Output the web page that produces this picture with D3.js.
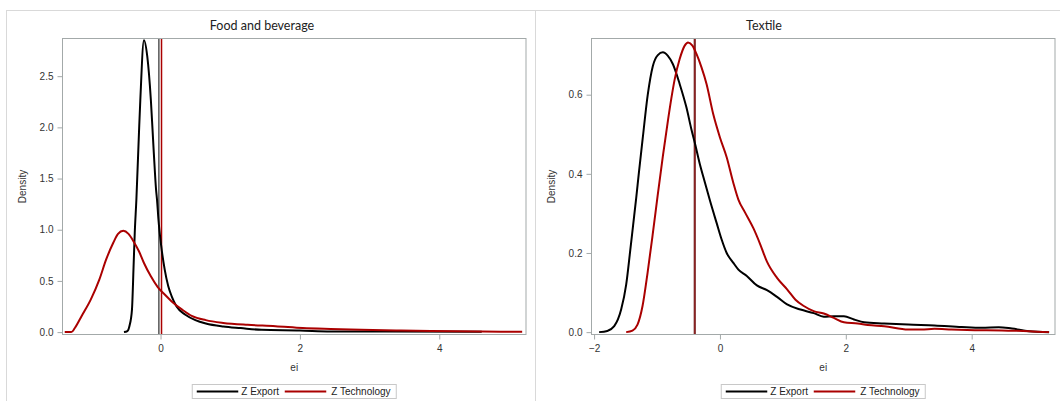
<!DOCTYPE html>
<html>
<head>
<meta charset="utf-8">
<script src="https://cdn.jsdelivr.net/npm/d3@7"></script>
<style>
  html, body { margin: 0; padding: 0; background: #fff; }
  svg { display: block; }
  .tick-label { font-family: "Liberation Sans", Arial, sans-serif; font-size: 10px; fill: #333; }
  .axis-title { font-family: "Liberation Sans", Arial, sans-serif; font-size: 10px; fill: #333; }
  .panel-title { font-family: Lato, "Open Sans", sans-serif; font-size: 12.5px; fill: #222; }
  .legend-text { font-family: "Liberation Sans", Arial, sans-serif; font-size: 10px; fill: #222; }
</style>
</head>
<body>
<svg id="chart" width="1060" height="401"></svg>
<script>
// Kernel density estimates of the efficiency index (ei), by sector
const panelTitles = ["Food and beverage", "Textile"];
const seriesNames = ["Z Export", "Z Technology"];
const seriesColors = ["#000000", "#aa0000"];

// Food and beverage: [ei, density]
const foodExport = [
  [-0.525, 0], [-0.476, 0.01], [-0.446, 0.06], [-0.41, 0.22], [-0.387, 0.64], [-0.37, 0.97],
  [-0.347, 1.29], [-0.31, 1.94], [-0.29, 2.27], [-0.238, 2.85], [-0.19, 2.69], [-0.139, 2.27],
  [-0.099, 1.78], [-0.064, 1.39], [-0.05, 1.29], [-0.03, 1.10], [0.01, 0.84], [0.06, 0.61],
  [0.11, 0.45], [0.16, 0.35], [0.23, 0.25], [0.357, 0.17], [0.5, 0.117], [0.65, 0.084],
  [0.9, 0.055], [1.15, 0.039], [1.45, 0.022], [2.0, 0.016], [2.44, 0.007], [3.13, 0.006],
  [4.61, 0.003]
];
const foodTechnology = [
  [-1.375, 0], [-1.28, 0], [-1.23, 0.04], [-1.13, 0.16], [-1.0, 0.32], [-0.88, 0.51],
  [-0.78, 0.71], [-0.68, 0.87], [-0.61, 0.96], [-0.535, 0.99], [-0.46, 0.96], [-0.387, 0.886],
  [-0.31, 0.79], [-0.238, 0.675], [-0.139, 0.545], [-0.04, 0.44], [0.06, 0.367], [0.16, 0.30],
  [0.31, 0.22], [0.456, 0.156], [0.65, 0.117], [0.9, 0.09], [1.25, 0.071], [1.65, 0.058],
  [2.04, 0.039], [2.44, 0.03], [2.88, 0.023], [3.38, 0.016], [3.88, 0.01], [4.62, 0.006],
  [5.19, 0.003]
];

// Textile: [ei, density]
const textileExport = [
  [-1.92, 0], [-1.79, 0.003], [-1.68, 0.015], [-1.57, 0.057], [-1.49, 0.12], [-1.43, 0.20],
  [-1.38, 0.27], [-1.33, 0.34], [-1.29, 0.40], [-1.227, 0.49], [-1.147, 0.60], [-1.067, 0.672],
  [-0.987, 0.700], [-0.907, 0.707], [-0.827, 0.698], [-0.747, 0.677], [-0.64, 0.627],
  [-0.533, 0.568], [-0.453, 0.512], [-0.39, 0.472], [-0.32, 0.425], [-0.24, 0.379],
  [-0.16, 0.333], [-0.053, 0.276], [0.027, 0.234], [0.107, 0.20], [0.213, 0.175], [0.293, 0.158],
  [0.427, 0.142], [0.587, 0.118], [0.747, 0.106], [0.907, 0.089], [1.067, 0.07], [1.28, 0.057],
  [1.49, 0.048], [1.65, 0.039], [1.81, 0.040], [1.97, 0.040], [2.13, 0.032], [2.29, 0.025],
  [2.61, 0.022], [2.99, 0.019], [3.41, 0.017], [3.84, 0.013], [4.16, 0.011], [4.43, 0.0126],
  [4.64, 0.009], [4.91, 0.0025], [5.23, 0]
];
const textileTechnology = [
  [-1.49, 0], [-1.39, 0.004], [-1.31, 0.019], [-1.23, 0.066], [-1.15, 0.15], [-1.07, 0.245],
  [-0.99, 0.345], [-0.907, 0.445], [-0.827, 0.534], [-0.773, 0.59],
  [-0.72, 0.638], [-0.64, 0.69], [-0.56, 0.724], [-0.507, 0.732], [-0.437, 0.724],
  [-0.373, 0.703], [-0.293, 0.669], [-0.213, 0.627], [-0.107, 0.551], [0.0, 0.492],
  [0.107, 0.442], [0.213, 0.377], [0.293, 0.335], [0.4, 0.302], [0.533, 0.262], [0.64, 0.222],
  [0.747, 0.178], [0.907, 0.137], [1.067, 0.108], [1.2, 0.082], [1.333, 0.066], [1.49, 0.053],
  [1.65, 0.047], [1.81, 0.036], [1.97, 0.025], [2.19, 0.022], [2.35, 0.018], [2.61, 0.015],
  [2.99, 0.0067], [3.2, 0.0067], [3.41, 0.0084], [3.68, 0.0067], [4.05, 0.005], [4.48, 0.004],
  [4.91, 0.0025], [5.23, 0]
];

// Reference lines (series means) per panel: [export, technology]
const foodMeans = [-0.024, 0.014];
const textileMeans = [-0.40, -0.40];

// Axis ticks and ranges
const foodXTicks = [0, 2, 4];
const foodYTicks = [0, 0.5, 1.0, 1.5, 2.0, 2.5];
const textileXTicks = [-2, 0, 2, 4];
const textileYTicks = [0, 0.2, 0.4, 0.6];
const foodXDomain = [-1.407, 5.245];
const foodYDomain = [-0.0234, 2.868];
const textileXDomain = [-2.041, 5.324];
const textileYDomain = [-0.006, 0.742];

const svg = d3.select("#chart");

// Cell frames
const frameColor = "#d9d9d9";
svg.append("line").attr("x1", 6).attr("x2", 1060).attr("y1", 10.5).attr("y2", 10.5)
  .attr("stroke", frameColor).attr("stroke-width", 1);
svg.append("line").attr("x1", 6.5).attr("x2", 6.5).attr("y1", 10).attr("y2", 401)
  .attr("stroke", frameColor).attr("stroke-width", 1);
svg.append("line").attr("x1", 535.5).attr("x2", 535.5).attr("y1", 10).attr("y2", 401)
  .attr("stroke", frameColor).attr("stroke-width", 1);

function drawPanel(cfg) {
  const left = cfg.left, right = cfg.left + 463.5, top = 38.5, bottom = 334.5;
  const x = d3.scaleLinear().domain(cfg.xDomain).range([left, right]);
  const y = d3.scaleLinear().domain(cfg.yDomain).range([bottom, top]);
  const g = svg.append("g");
  const cx = (left + right) / 2;

  // title
  g.append("text").attr("class", "panel-title")
    .attr("x", cfg.titleX).attr("y", 30).attr("text-anchor", "middle").text(cfg.title);

  // clip for the plot area
  const clipId = "clip-" + cfg.key;
  g.append("clipPath").attr("id", clipId).append("rect")
    .attr("x", left).attr("y", top).attr("width", right - left).attr("height", bottom - top);

  // reference lines
  const refColors = ["#555555", "#aa0000"];
  cfg.means.forEach((m, i) => {
    g.append("line")
      .attr("x1", x(m)).attr("x2", x(m)).attr("y1", top).attr("y2", bottom)
      .attr("stroke", refColors[i]).attr("stroke-width", cfg.refWidth)
      .attr("stroke-opacity", cfg.refOpacity[i]);
  });

  // density curves
  const line = d3.line().x(d => x(d[0])).y(d => y(d[1])).curve(d3.curveMonotoneX);
  cfg.series.forEach((s, i) => {
    g.append("path").datum(s)
      .attr("clip-path", `url(#${clipId})`)
      .attr("fill", "none").attr("stroke", seriesColors[i])
      .attr("stroke-width", 2).attr("stroke-linejoin", "round").attr("d", line);
  });

  // frame
  g.append("rect").attr("x", left).attr("y", top)
    .attr("width", right - left).attr("height", bottom - top)
    .attr("fill", "none").attr("stroke", "#a3a9a9").attr("stroke-width", 1);

  // x axis
  const xAxis = d3.axisBottom(x).tickValues(cfg.xTicks).tickSize(5).tickPadding(5)
    .tickFormat(d3.format("d"));
  const xg = g.append("g").attr("transform", `translate(0,${bottom})`).call(xAxis);
  xg.select(".domain").remove();
  xg.selectAll(".tick line").attr("stroke", "#a3a9a9");
  xg.selectAll(".tick text").attr("class", "tick-label").attr("font-family", null).attr("font-size", null);

  // y axis
  const yAxis = d3.axisLeft(y).tickValues(cfg.yTicks).tickSize(5).tickPadding(4)
    .tickFormat(d3.format(".1f"));
  const yg = g.append("g").attr("transform", `translate(${left},0)`).call(yAxis);
  yg.select(".domain").remove();
  yg.selectAll(".tick line").attr("stroke", "#a3a9a9");
  yg.selectAll(".tick text").attr("class", "tick-label").attr("font-family", null).attr("font-size", null);

  // axis titles
  g.append("text").attr("class", "axis-title")
    .attr("x", cx).attr("y", 371).attr("text-anchor", "middle").text("ei");
  g.append("text").attr("class", "axis-title")
    .attr("transform", `translate(${left - 37},${(top + bottom) / 2}) rotate(-90)`)
    .attr("text-anchor", "middle").text("Density");

  // legend
  const lg = g.append("g").attr("transform", `translate(${cx},0)`);
  lg.append("rect").attr("x", -102).attr("y", 384.5).attr("width", 204).attr("height", 14)
    .attr("fill", "#fff").attr("stroke", "#c8c8c8").attr("stroke-width", 1);
  const items = [{ x0: -97.5, x1: -56, tx: -53 }, { x0: -9.5, x1: 32, tx: 37 }];
  seriesNames.forEach((name, i) => {
    lg.append("line").attr("x1", items[i].x0).attr("x2", items[i].x1)
      .attr("y1", 391.5).attr("y2", 391.5)
      .attr("stroke", seriesColors[i]).attr("stroke-width", 2);
    lg.append("text").attr("class", "legend-text")
      .attr("x", items[i].tx).attr("y", 395).text(name);
  });
}

drawPanel({
  key: "food", title: panelTitles[0], titleX: 262, left: 62.5,
  xDomain: foodXDomain, yDomain: foodYDomain, xTicks: foodXTicks, yTicks: foodYTicks,
  series: [foodExport, foodTechnology], means: foodMeans,
  refWidth: 1.5, refOpacity: [1, 1]
});
drawPanel({
  key: "textile", title: panelTitles[1], titleX: 764, left: 591.5,
  xDomain: textileXDomain, yDomain: textileYDomain, xTicks: textileXTicks, yTicks: textileYTicks,
  series: [textileExport, textileTechnology], means: textileMeans,
  refWidth: 2, refOpacity: [1, 0.6]
});
</script>
</body>
</html>
